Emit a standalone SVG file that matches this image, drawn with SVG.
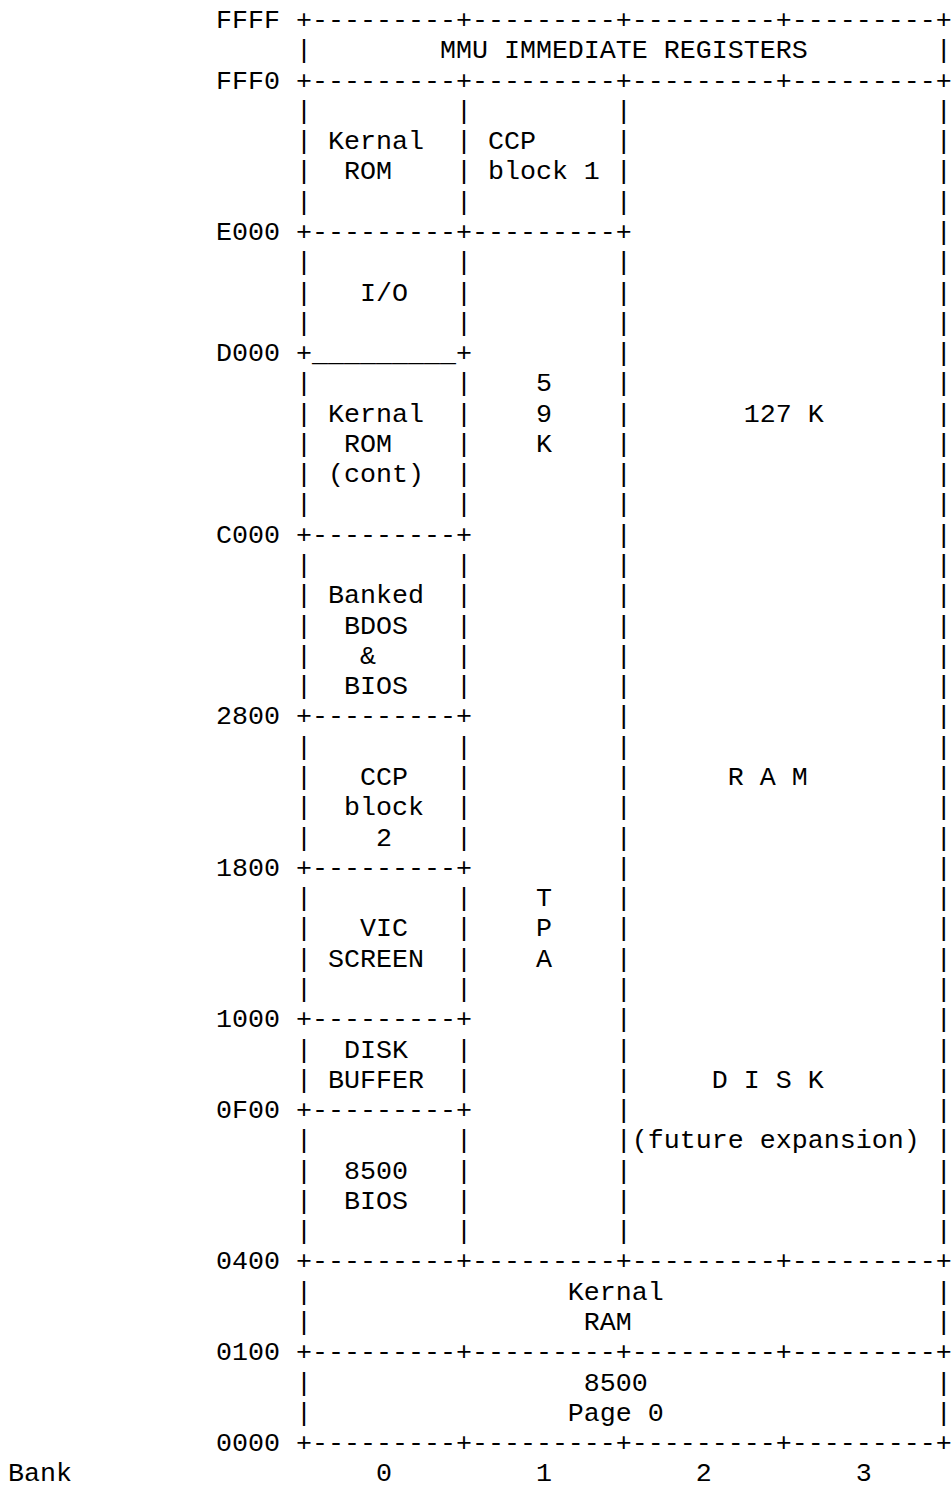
<svg xmlns="http://www.w3.org/2000/svg" width="952" height="1486" viewBox="0 0 952 1486">
<style>
text{font-family:"Liberation Mono","DejaVu Sans Mono",monospace;font-size:26.667px;fill:#000;white-space:pre}
</style>
<rect width="952" height="1486" fill="#fff"/>
<g id="memory-map" xml:space="preserve">
<text x="8" y="28">             FFFF +---------+---------+---------+---------+</text>
<text x="8" y="58.28">                  |        MMU IMMEDIATE REGISTERS        |</text>
<text x="8" y="88.56">             FFF0 +---------+---------+---------+---------+</text>
<text x="8" y="118.84">                  |         |         |                   |</text>
<text x="8" y="149.12">                  | Kernal  | CCP     |                   |</text>
<text x="8" y="179.4">                  |  ROM    | block 1 |                   |</text>
<text x="8" y="209.68">                  |         |         |                   |</text>
<text x="8" y="239.96">             E000 +---------+---------+                   |</text>
<text x="8" y="270.24">                  |         |         |                   |</text>
<text x="8" y="300.52">                  |   I/O   |         |                   |</text>
<text x="8" y="330.8">                  |         |         |                   |</text>
<text x="8" y="361.08">             D000 +_________+         |                   |</text>
<text x="8" y="391.36">                  |         |    5    |                   |</text>
<text x="8" y="421.64">                  | Kernal  |    9    |       127 K       |</text>
<text x="8" y="451.92">                  |  ROM    |    K    |                   |</text>
<text x="8" y="482.2">                  | (cont)  |         |                   |</text>
<text x="8" y="512.48">                  |         |         |                   |</text>
<text x="8" y="542.76">             C000 +---------+         |                   |</text>
<text x="8" y="573.04">                  |         |         |                   |</text>
<text x="8" y="603.32">                  | Banked  |         |                   |</text>
<text x="8" y="633.6">                  |  BDOS   |         |                   |</text>
<text x="8" y="663.88">                  |   &amp;     |         |                   |</text>
<text x="8" y="694.16">                  |  BIOS   |         |                   |</text>
<text x="8" y="724.44">             2800 +---------+         |                   |</text>
<text x="8" y="754.72">                  |         |         |                   |</text>
<text x="8" y="785">                  |   CCP   |         |      R A M        |</text>
<text x="8" y="815.28">                  |  block  |         |                   |</text>
<text x="8" y="845.56">                  |    2    |         |                   |</text>
<text x="8" y="875.84">             1800 +---------+         |                   |</text>
<text x="8" y="906.12">                  |         |    T    |                   |</text>
<text x="8" y="936.4">                  |   VIC   |    P    |                   |</text>
<text x="8" y="966.68">                  | SCREEN  |    A    |                   |</text>
<text x="8" y="996.96">                  |         |         |                   |</text>
<text x="8" y="1027.24">             1000 +---------+         |                   |</text>
<text x="8" y="1057.52">                  |  DISK   |         |                   |</text>
<text x="8" y="1087.8">                  | BUFFER  |         |     D I S K       |</text>
<text x="8" y="1118.08">             0F00 +---------+         |                   |</text>
<text x="8" y="1148.36">                  |         |         |(future expansion) |</text>
<text x="8" y="1178.64">                  |  8500   |         |                   |</text>
<text x="8" y="1208.92">                  |  BIOS   |         |                   |</text>
<text x="8" y="1239.2">                  |         |         |                   |</text>
<text x="8" y="1269.48">             0400 +---------+---------+---------+---------+</text>
<text x="8" y="1299.76">                  |                Kernal                 |</text>
<text x="8" y="1330.04">                  |                 RAM                   |</text>
<text x="8" y="1360.32">             0100 +---------+---------+---------+---------+</text>
<text x="8" y="1390.6">                  |                 8500                  |</text>
<text x="8" y="1420.88">                  |                Page 0                 |</text>
<text x="8" y="1451.16">             0000 +---------+---------+---------+---------+</text>
<text x="8" y="1481.44">Bank                   0         1         2         3</text>
</g>
</svg>
